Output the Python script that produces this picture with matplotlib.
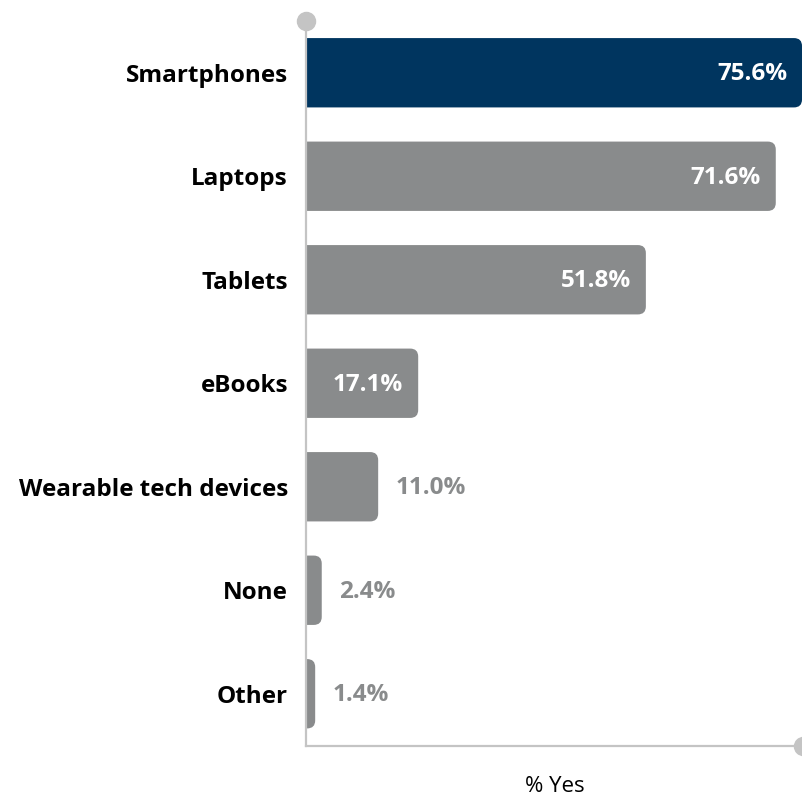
import matplotlib.pyplot as plt
from matplotlib.patches import FancyBboxPatch

plt.rcParams['font.family'] = ['Open Sans', 'DejaVu Sans']

categories = ['Smartphones', 'Laptops', 'Tablets', 'eBooks',
              'Wearable tech devices', 'None', 'Other']
values = [75.6, 71.6, 51.8, 17.1, 11.0, 2.4, 1.4]
labels = ['75.6%', '71.6%', '51.8%', '17.1%', '11.0%', '2.4%', '1.4%']

navy = '#00355f'
grey = '#898b8c'
axis_grey = '#c4c4c4'

fig = plt.figure(figsize=(8.03, 7.98), dpi=100)
ax = fig.add_axes([306 / 803, 1 - 745.5 / 798, 497 / 803, 724.5 / 798])

xmax = 75.75
ax.set_xlim(0, xmax)
ax.set_ylim(len(categories) - 0.5, -0.5)

# rounded right ends: rounding radius in x units, aspect to keep it circular in px
x_per_px = xmax / 497
y_per_px = 7 / 724.5
r = 8 * x_per_px
h = 0.67
fs = 17.5
for i, v in enumerate(values):
    color = navy if i == 0 else grey
    p = FancyBboxPatch((-3, i - h / 2), v + 3, h,
                       boxstyle=f'round,pad=0,rounding_size={r}',
                       mutation_aspect=y_per_px / x_per_px,
                       fc=color, ec='none')
    ax.add_patch(p)
    if v > 15:
        ax.text(v - 15 * x_per_px, i + 0.015, labels[i], ha='right', va='center',
                color='white', fontsize=fs, fontweight='bold')
    else:
        ax.text(v + 17 * x_per_px, i + 0.015, labels[i], ha='left', va='center',
                color=grey, fontsize=fs, fontweight='bold')

ax.set_yticks(range(len(categories)))
ax.set_yticklabels(categories, fontsize=fs, fontweight='bold')
ax.tick_params(axis='y', length=0, pad=13)
ax.set_xticks([])

for s in ['top', 'right']:
    ax.spines[s].set_visible(False)
for s in ['left', 'bottom']:
    ax.spines[s].set_color(axis_grey)
    ax.spines[s].set_linewidth(1.6)

# end caps on the axis lines
ax.plot([0], [-0.5], 'o', ms=13, color=axis_grey, clip_on=False, zorder=5)
ax.plot([xmax], [len(categories) - 0.5], 'o', ms=13, color=axis_grey,
        clip_on=False, zorder=5)

ax.set_xlabel('% Yes', fontsize=16, labelpad=22)

fig.savefig('out.png', dpi=100)
